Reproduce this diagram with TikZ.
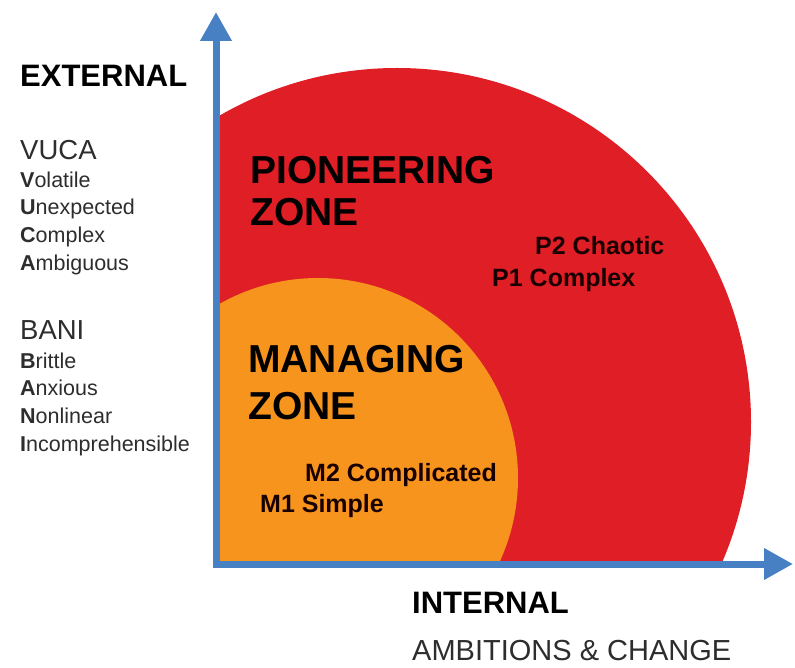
\documentclass[tikz,border=0pt]{standalone}
\usepackage{fontspec}
\setmainfont{Liberation Sans}
\usetikzlibrary{arrows.meta}

\definecolor{zonered}{RGB}{224,30,38}
\definecolor{zoneorange}{RGB}{247,148,29}
\definecolor{axisblue}{RGB}{72,128,196}
\definecolor{listgray}{RGB}{45,45,45}

\begin{document}
\begin{tikzpicture}[x=1pt,y=1pt]
	\tikzstyle{axis}=[draw=axisblue,line width=7pt,line cap=rect,-{Triangle[length=29pt,width=30pt]}]
	\tikzstyle{heading}=[anchor=base west,inner sep=0pt,text=black,font=\bfseries\fontsize{31}{36}\selectfont]
	\tikzstyle{acronym}=[anchor=base west,inner sep=0pt,text=listgray,font=\fontsize{27.5}{32}\selectfont]
	\tikzstyle{listtext}=[anchor=base west,inner sep=0pt,text=listgray,font=\fontsize{21.5}{25}\selectfont]
	\tikzstyle{zonetitle}=[anchor=base west,inner sep=0pt,text=black,font=\bfseries\fontsize{39}{45}\selectfont]
	\tikzstyle{level}=[anchor=base west,inner sep=0pt,text=black!90!red,font=\bfseries\fontsize{25}{29}\selectfont]

	\useasboundingbox (0,0) rectangle (795,667);

	\coordinate (O) at (216,103);
	\coordinate (ytip) at (216,655);
	\coordinate (xtip) at (793,103);

	% zones, cut off by the axes
	\begin{scope}
		\clip (O) rectangle (795,667);
		\fill[zonered] (397,245) circle [radius=354];
		\fill[zoneorange] (318,189) circle [radius=200];
	\end{scope}

	\draw[axis] (O) -- (ytip);
	\draw[axis] (O) -- (xtip);

	% external side
	\node[heading](external) at (20,580){EXTERNAL};

	\node[acronym](vuca) at (20,507){VUCA};
	\node[listtext](vuca1) at (20,479){\textbf{V}olatile};
	\node[listtext](vuca2) at (20,452){\textbf{U}nexpected};
	\node[listtext](vuca3) at (20,424){\textbf{C}omplex};
	\node[listtext](vuca4) at (20,396){\textbf{A}mbiguous};

	\node[acronym](bani) at (20,327){BANI};
	\node[listtext](bani1) at (20,298){\textbf{B}rittle};
	\node[listtext](bani2) at (20,271){\textbf{A}nxious};
	\node[listtext](bani3) at (20,243){\textbf{N}onlinear};
	\node[listtext](bani4) at (20,215){\textbf{I}ncomprehensible};

	% zones
	\node[zonetitle](pion1) at (250,483){PIONEERING};
	\node[zonetitle](pion2) at (250,441){ZONE};
	\node[level](p2) at (535,412){P2 Chaotic};
	\node[level](p1) at (492,380){P1 Complex};

	\node[zonetitle](man1) at (248,294){MANAGING};
	\node[zonetitle](man2) at (248,247){ZONE};
	\node[level](m2) at (305,185){M2 Complicated};
	\node[level](m1) at (260,154){M1 Simple};

	% internal side
	\node[heading](internal) at (412,54){INTERNAL};
	\node[anchor=base west,inner sep=0pt,text=listgray,font=\fontsize{29}{34}\selectfont](ambition) at (412,7){AMBITIONS \& CHANGE};
\end{tikzpicture}
\end{document}
